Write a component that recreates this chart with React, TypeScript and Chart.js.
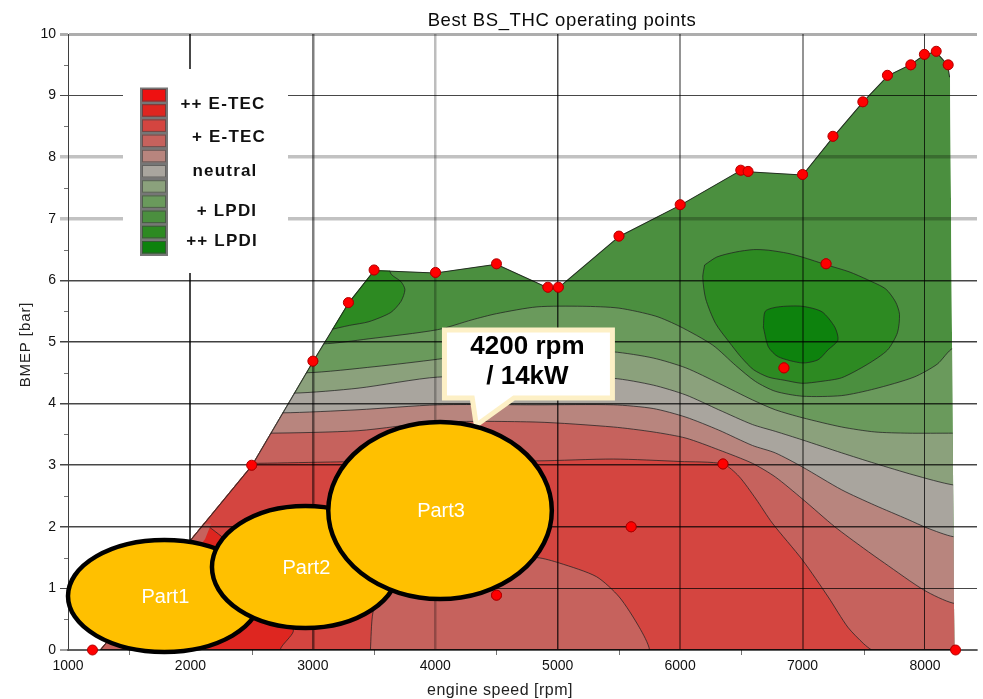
import React, { useEffect, useRef } from 'react';
import { Chart, registerables } from 'chart.js';

Chart.register(...registerables);

// ---------------- axes ----------------
const X_MIN = 1000;
const X_MAX = 8425;
const Y_MIN = 0;
const Y_MAX = 10;
const xTicks = [1000, 2000, 3000, 4000, 5000, 6000, 7000, 8000];
const yTicks = [0, 1, 2, 3, 4, 5, 6, 7, 8, 9, 10];

// ---------------- data (engine speed [rpm], BMEP [bar]) ----------------
const envelope = [
  [1260, 0], [2500, 3.0], [3000, 4.69], [3290, 5.64], [3500, 6.17], [4002, 6.13], [4500, 6.27],
  [4920, 5.89], [5005, 5.89], [5500, 6.72], [6000, 7.23], [6490, 7.79], [6550, 7.77], [7000, 7.72],
  [7250, 8.34], [7490, 8.9], [7695, 9.33], [7880, 9.51], [7995, 9.67], [8090, 9.72], [8190, 9.5],
  [8205, 9.3], [8240, 0],
];

const operatingPoints = [
  [1200, 0], [2500, 3.0], [3000, 4.69], [3290, 5.64], [3500, 6.17], [4002, 6.13], [4500, 6.27],
  [4920, 5.89], [5005, 5.89], [5500, 6.72], [6000, 7.23], [6495, 7.79], [6555, 7.77], [7000, 7.72],
  [7248, 8.34], [7492, 8.9], [7693, 9.33], [7884, 9.5], [7995, 9.67], [8092, 9.72], [8190, 9.5],
  [8250, 0], [7192, 6.27], [6848, 4.58], [6350, 3.02], [5600, 2.0], [4500, 0.89],
];

// contour lines (left to right)
const contourA = [
  [3080, 4.97], [3450, 5.05], [4019, 5.2], [4300, 5.36], [4500, 5.46], [4830, 5.57], [5200, 5.58],
  [5500, 5.55], [5800, 5.42], [6000, 5.25], [6266, 4.95], [6453, 4.62], [6615, 4.36], [6777, 4.2],
  [7000, 4.12], [7320, 4.13], [7590, 4.24], [7910, 4.43], [8100, 4.64], [8230, 4.9],
];
const contourB = [
  [2940, 4.5], [3507, 4.6], [4019, 4.72], [4500, 4.85], [4830, 4.9], [5455, 4.84], [5780, 4.74],
  [6047, 4.58], [6315, 4.33], [6591, 4.06], [6777, 3.9], [7000, 3.77], [7320, 3.62], [7590, 3.54],
  [7860, 3.52], [8230, 3.52],
];
const contourC = [
  [2840, 4.17], [3369, 4.25], [4019, 4.43], [4830, 4.43], [5455, 4.41], [5780, 4.3], [6047, 4.14],
  [6315, 3.9], [6591, 3.66], [6777, 3.55], [7000, 3.41], [7320, 3.2], [7590, 3.03], [7910, 2.84],
  [8230, 2.68],
];
const contourD = [
  [2750, 3.85], [3369, 3.9], [4019, 3.98], [4830, 3.98], [5455, 3.98], [5780, 3.92], [6047, 3.78],
  [6315, 3.57], [6591, 3.32], [6777, 3.2], [7000, 2.97], [7320, 2.6], [7590, 2.35], [7860, 2.12],
  [8019, 1.98], [8230, 1.84],
];
const contourE = [
  [2640, 3.52], [3369, 3.56], [4019, 3.7], [4830, 3.7], [5455, 3.62], [5780, 3.54], [6047, 3.44],
  [6315, 3.25], [6591, 3.03], [6777, 2.81], [7000, 2.45], [7264, 2.0], [7500, 1.65], [7670, 1.41],
  [7994, 0.97], [8230, 0.76],
];
const contourF = [
  [2490, 3.03], [3100, 3.05], [4019, 3.08], [4830, 3.07], [5455, 3.1], [6000, 3.06], [6350, 3.02],
  [6480, 2.82], [6620, 2.45], [6753, 2.06], [7000, 1.46], [7210, 0.86], [7370, 0.37], [7500, 0.1],
  [7565, 0],
];
const contourC2 = [
  [2030, 2.12], [2250, 1.85], [2500, 1.4], [2700, 0.9], [2800, 0.55], [2840, 0.3], [2745, 0],
];
const contourStrip = [[2170, 2.05], [2120, 1.8], [1430, 0]];
const contourLow = [
  [3470, 0], [3490, 0.6], [3560, 1.0], [3800, 1.3], [4200, 1.45], [4500, 1.47], [4830, 1.5],
  [5017, 1.41], [5317, 1.19], [5503, 0.86], [5666, 0.37], [5750, 0],
];
const islandSmall = [
  [3120, 5.19], [3300, 5.27], [3458, 5.33], [3637, 5.48], [3720, 5.66], [3752, 5.85], [3720, 5.98],
  [3640, 6.1], [3600, 6.3], [3480, 6.35], [3250, 5.85],
];
const islandBig = [
  [6200, 6.25], [6300, 6.38], [6453, 6.46], [6600, 6.5], [6721, 6.49], [6880, 6.44], [6996, 6.38],
  [7199, 6.25], [7380, 6.14], [7532, 6.01], [7680, 5.86], [7760, 5.65], [7792, 5.45], [7775, 5.15],
  [7694, 4.87], [7532, 4.64], [7320, 4.42], [7150, 4.36], [6996, 4.33], [6850, 4.38], [6721, 4.43],
  [6600, 4.55], [6500, 4.75], [6400, 5.0], [6290, 5.3], [6209, 5.7], [6185, 6.05],
];
const islandCore = [
  [6680, 5.24], [6696, 5.5], [6802, 5.57], [6996, 5.58], [7159, 5.49], [7264, 5.24], [7289, 5.03],
  [7207, 4.87], [7126, 4.71], [6996, 4.66], [6802, 4.76], [6721, 4.92],
];

// legend (top to bottom)
const legendColors = [
  '#ee1111', '#de2620', '#d44540', '#c6625d', '#b8857e', '#a9a59e',
  '#8ba17c', '#6a9a5c', '#4b8f3f', '#2d8a22', '#0d820d',
];
const legendLabels = ['++ E-TEC', '+ E-TEC', 'neutral', '+ LPDI', '++ LPDI'];

// annotations
const partLabels = ['Part1', 'Part2', 'Part3'];
const partCenterX = [1787, 2939, 4039];
const partCenterY = [0.877, 1.347, 2.265];
const partRadiusX = [787, 763, 913];
const partRadiusY = [0.909, 0.99, 1.437];
const calloutLines = ['4200 rpm', '/ 14kW'];
const titleText = 'Best BS_THC operating points';
const xTitleText = 'engine speed [rpm]';
const yTitleText = 'BMEP [bar]';

// ---------------- styles ----------------
const FONT = "'Liberation Sans', Arial, Helvetica, sans-serif";
const CONTOUR = 'rgba(35,35,35,0.75)';
const yGridStyle: Record<number, [string, number]> = {
  10: ['rgba(0,0,0,0.32)', 3], 9: ['rgba(0,0,0,0.72)', 1], 8: ['rgba(0,0,0,0.24)', 3.5],
  7: ['rgba(0,0,0,0.24)', 3.5], 6: ['rgba(0,0,0,0.72)', 1.5], 5: ['rgba(0,0,0,0.75)', 1.5],
  4: ['rgba(0,0,0,0.72)', 1.5], 3: ['rgba(0,0,0,0.72)', 1.5], 2: ['rgba(0,0,0,0.72)', 1.5],
  1: ['rgba(0,0,0,0.72)', 1], 0: ['rgba(0,0,0,0.38)', 2],
};
const xGridStyle: Record<number, [string, number]> = {
  1000: ['rgba(0,0,0,0.5)', 1], 2000: ['rgba(0,0,0,0.72)', 2], 3000: ['rgba(0,0,0,0.5)', 2.5],
  4000: ['rgba(0,0,0,0.26)', 2.5], 5000: ['rgba(0,0,0,0.72)', 1.5], 6000: ['rgba(0,0,0,0.42)', 2],
  7000: ['rgba(0,0,0,0.42)', 2], 8000: ['rgba(0,0,0,0.75)', 1],
};

// ---------------- helpers ----------------
const P = (a: number[][]) => a.map(([x, y]) => ({ x, y }));
function below(line: number[][]) {
  const first = line[0];
  const last = line[line.length - 1];
  const pts = [{ x: X_MIN, y: first[1] }, ...P(line)];
  if (last[1] > 0) pts.push({ x: X_MAX, y: last[1] });
  pts.push({ x: X_MAX, y: -1 }, { x: X_MIN, y: -1 });
  return pts;
}
const closed = (line: number[][]) => [...P(line), P(line)[0]];
function lowRegion(line: number[][]) {
  const first = line[0];
  const last = line[line.length - 1];
  return [...P(line), { x: last[0], y: -1 }, { x: first[0], y: -1 }];
}
const fillDs = (data: any[], color: string, stroke: boolean, tension = 0.25) => ({
  data, backgroundColor: color, borderColor: stroke ? CONTOUR : 'rgba(0,0,0,0)',
  borderWidth: stroke ? 1 : 0, fill: 'shape', pointRadius: 0, pointHoverRadius: 0,
  tension, showLine: true,
});

function buildDatasets() {
  const envRot = [envelope[envelope.length - 1], ...envelope.slice(0, -1)];
  const list: any[] = [
    fillDs(P(envRot), legendColors[8], false, 0),
    fillDs(below(contourA), legendColors[7], true),
    fillDs(below(contourB), legendColors[6], true),
    fillDs(below(contourC), legendColors[5], true),
    fillDs(below(contourD), legendColors[4], true),
    fillDs(below(contourE), legendColors[3], true),
    fillDs(below(contourF), legendColors[2], true),
    fillDs(below(contourC2), legendColors[1], true),
    fillDs(below(contourStrip), legendColors[3], false, 0),
    fillDs(lowRegion(contourLow), legendColors[3], true),
    fillDs(closed(islandSmall), legendColors[9], true),
    fillDs(closed(islandBig), legendColors[9], true),
    fillDs(closed(islandCore), legendColors[10], true),
    {
      data: P(envRot), fill: false, borderColor: 'rgba(30,30,30,0.85)', borderWidth: 2,
      pointRadius: 0, tension: 0, showLine: true,
    },
    {
      data: P(operatingPoints), showLine: false, pointRadius: 5, pointHoverRadius: 5,
      pointStyle: 'circle', pointBackgroundColor: '#ff0000', pointBorderColor: '#b00000',
      pointBorderWidth: 1,
    },
  ];
  return list.map((d, i) => ({ ...d, order: list.length - i }));
}

function setSpacing(ctx: any, v: string) {
  try { ctx.letterSpacing = v; } catch (e) { /* ignore */ }
}

const overlayPlugin = {
  id: 'overlay',
  beforeDatasetsDraw(chart: any) {
    const { ctx, scales: { x, y } } = chart;
    ctx.save();
    ctx.beginPath();
    envelope.forEach(([vx, vy], i) => {
      const px = x.getPixelForValue(vx);
      const py = y.getPixelForValue(vy);
      if (i === 0) ctx.moveTo(px, py); else ctx.lineTo(px, py);
    });
    ctx.closePath();
    ctx.clip();
  },
  afterDatasetsDraw(chart: any) {
    chart.ctx.restore();
  },
  afterDraw(chart: any) {
    const { ctx, scales: { x, y }, chartArea } = chart;
    const px = (v: number) => x.getPixelForValue(v);
    const py = (v: number) => y.getPixelForValue(v);

    // operating points on top of the grid
    const dotMeta = chart.getDatasetMeta(chart.data.datasets.length - 1);
    dotMeta.controller.draw();

    ctx.save();
    // minor ticks
    ctx.strokeStyle = 'rgba(0,0,0,0.55)';
    ctx.lineWidth = 1;
    ctx.beginPath();
    for (let v = Y_MIN + 0.5; v < Y_MAX; v += 1) {
      const yy = Math.round(py(v)) + 0.5;
      ctx.moveTo(chartArea.left - 4, yy);
      ctx.lineTo(chartArea.left, yy);
    }
    for (let v = X_MIN + 500; v < X_MAX; v += 1000) {
      const xx = Math.round(px(v)) + 0.5;
      ctx.moveTo(xx, chartArea.bottom);
      ctx.lineTo(xx, chartArea.bottom + 5);
    }
    ctx.stroke();

    // legend
    ctx.fillStyle = '#ffffff';
    ctx.fillRect(123, 69, 165, 204);
    ctx.fillStyle = '#767676';
    ctx.fillRect(140, 87.5, 28, 168.5);
    legendColors.forEach((c, i) => {
      const top = 89 + i * 15.2;
      ctx.fillStyle = c;
      ctx.fillRect(142, top, 24, 12.5);
      ctx.strokeStyle = 'rgba(70,70,70,0.7)';
      ctx.lineWidth = 1;
      ctx.strokeRect(142.5, top + 0.5, 23, 11.5);
    });
    const labelX = [223, 229, 225, 227, 222];
    const labelY = [109, 141.5, 176, 216, 246];
    ctx.fillStyle = '#111111';
    ctx.font = `bold 17px ${FONT}`;
    ctx.textAlign = 'center';
    ctx.textBaseline = 'alphabetic';
    setSpacing(ctx, '1.2px');
    legendLabels.forEach((t, i) => ctx.fillText(t, labelX[i], labelY[i]));
    setSpacing(ctx, '0px');

    // callout
    const L = px(4075), R = px(5447), T = py(5.195), B = py(4.09);
    const tl = px(4302), tr = px(4643), tipX = px(4335), tipY = py(3.65);
    ctx.beginPath();
    ctx.moveTo(L, T); ctx.lineTo(R, T); ctx.lineTo(R, B); ctx.lineTo(tr, B);
    ctx.lineTo(tipX, tipY); ctx.lineTo(tl, B); ctx.lineTo(L, B); ctx.closePath();
    ctx.fillStyle = '#ffffff';
    ctx.fill();
    ctx.strokeStyle = '#fdf0c6';
    ctx.lineWidth = 5;
    ctx.lineJoin = 'miter';
    ctx.stroke();
    ctx.fillStyle = '#000000';
    ctx.font = `bold 26px ${FONT}`;
    ctx.textAlign = 'center';
    const cx = (L + R) / 2 - 1;
    ctx.fillText(calloutLines[0], cx, py(4.82) + 0.5);
    ctx.fillText(calloutLines[1], cx, py(4.32));

    // parts
    partLabels.forEach((label, i) => {
      const ex = px(partCenterX[i]);
      const ey = py(partCenterY[i]);
      const rx = px(partCenterX[i] + partRadiusX[i]) - ex;
      const ry = ey - py(partCenterY[i] + partRadiusY[i]);
      ctx.beginPath();
      ctx.ellipse(ex, ey, rx, ry, 0, 0, Math.PI * 2);
      ctx.fillStyle = '#ffc000';
      ctx.fill();
      ctx.lineWidth = 4.5;
      ctx.strokeStyle = '#000000';
      ctx.stroke();
      ctx.fillStyle = '#ffffff';
      ctx.font = `20px ${FONT}`;
      ctx.textAlign = 'center';
      ctx.fillText(label, ex + 1, ey + 7);
    });

    // titles
    ctx.fillStyle = '#0a0a0a';
    ctx.font = `18.5px ${FONT}`;
    ctx.textAlign = 'center';
    setSpacing(ctx, '0.6px');
    ctx.fillText(titleText, 562, 26);
    ctx.fillStyle = '#222222';
    ctx.font = `16px ${FONT}`;
    setSpacing(ctx, '0.5px');
    ctx.fillText(xTitleText, 500, 695);
    ctx.save();
    ctx.translate(29.5, 344.5);
    ctx.rotate(-Math.PI / 2);
    ctx.font = `15px ${FONT}`;
    setSpacing(ctx, '0.9px');
    ctx.fillText(yTitleText, 0, 0);
    ctx.restore();
    setSpacing(ctx, '0px');
    ctx.restore();
  },
};

export default function App() {
  const ref = useRef<HTMLCanvasElement>(null);
  useEffect(() => {
    document.body.style.margin = '0';
    const canvas = ref.current;
    if (!canvas) return;
    const chart = new Chart(canvas, {
      type: 'line',
      data: { datasets: buildDatasets() as any },
      options: {
        responsive: false,
        devicePixelRatio: 1,
        animation: false,
        events: [],
        layout: { padding: { top: 34, left: 0, right: 0, bottom: 0 } },
        plugins: {
          legend: { display: false },
          title: { display: false },
          tooltip: { enabled: false },
        },
        scales: {
          x: {
            type: 'linear',
            min: X_MIN,
            max: X_MAX,
            afterBuildTicks: (s: any) => { s.ticks = xTicks.map((v) => ({ value: v })); },
            afterFit: (s: any) => { s.height = 49; },
            ticks: {
              padding: 8,
              color: '#111111',
              font: { family: FONT, size: 14 },
              maxRotation: 0,
              autoSkip: false,
              callback: (v: any) => String(v),
            },
            grid: {
              z: 1,
              drawTicks: false,
              color: (c: any) => (xGridStyle[c.tick?.value] || ['rgba(0,0,0,0.4)', 1])[0],
              lineWidth: (c: any) => (xGridStyle[c.tick?.value] || ['rgba(0,0,0,0.4)', 1])[1],
            },
            border: { display: true, color: 'rgba(0,0,0,0.4)', width: 2, z: 1 },
          },
          y: {
            type: 'linear',
            min: Y_MIN,
            max: Y_MAX,
            afterBuildTicks: (s: any) => { s.ticks = yTicks.map((v) => ({ value: v })); },
            afterFit: (s: any) => { s.width = 68; },
            ticks: {
              padding: 4,
              color: '#111111',
              font: { family: FONT, size: 14 },
              autoSkip: false,
              callback: (v: any) => String(v),
            },
            grid: {
              z: 1,
              drawTicks: true,
              tickLength: 8,
              color: (c: any) => (yGridStyle[c.tick?.value] || ['rgba(0,0,0,0.5)', 1])[0],
              lineWidth: (c: any) => (yGridStyle[c.tick?.value] || ['rgba(0,0,0,0.5)', 1])[1],
            },
            border: { display: true, color: 'rgba(0,0,0,0.5)', width: 1, z: 1 },
          },
        },
      } as any,
      plugins: [overlayPlugin as any],
    });
    return () => chart.destroy();
  }, []);
  return (
    <div style={{ position: 'absolute', left: 0, top: 0, width: 983, height: 699, background: '#ffffff' }}>
      <canvas ref={ref} width={983} height={699} style={{ display: 'block', width: 983, height: 699 }} />
    </div>
  );
}
